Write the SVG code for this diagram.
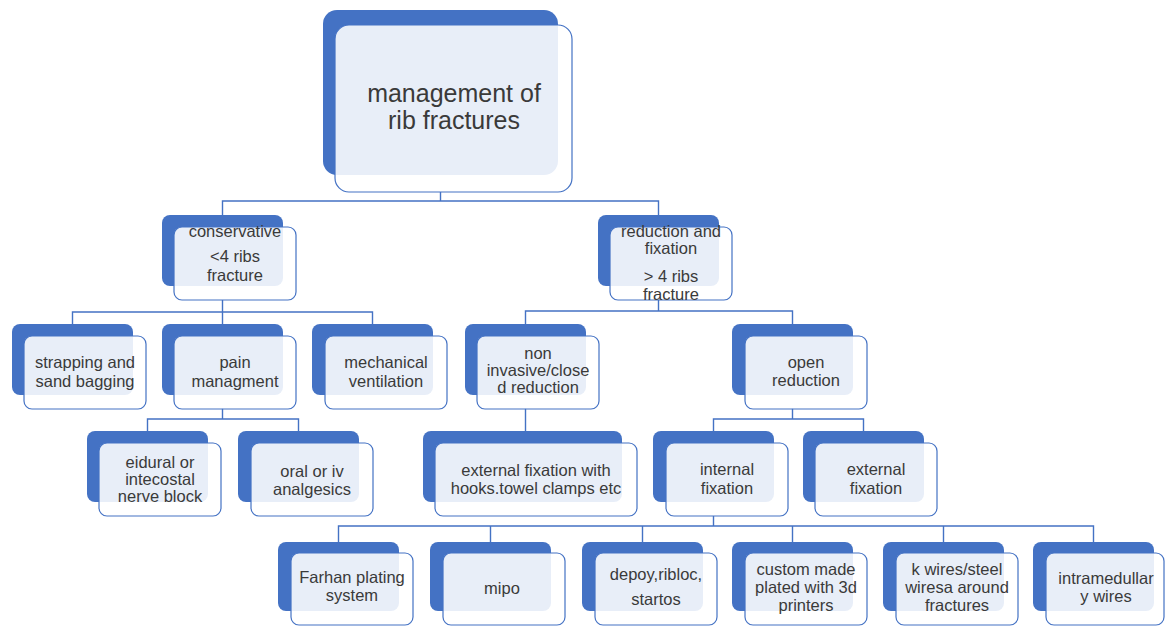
<svg xmlns="http://www.w3.org/2000/svg" width="1166" height="631" viewBox="0 0 1166 631">
<style>
.b{fill:#4472c4}
.f{fill:#ffffff;fill-opacity:0.88;stroke:#4472c4;stroke-width:1.2}
.t{font-family:"Liberation Sans",Arial,sans-serif;font-size:16.5px;fill:#3a3a3a;text-anchor:middle}
.r{font-size:25px}
.c{fill:none;stroke:#4472c4;stroke-width:1.4}
</style>
<rect width="1166" height="631" fill="#ffffff"/>
<g id="connectors" class="c">
<path d="M440.5,192 V201 M222.5,215 V201 H658.5 V215"/>
<path d="M222.5,300 V312 M72.5,324 V312 H372.5 V324 M222.5,312 V324"/>
<path d="M222.5,408 V419 M147.5,431 V419 H298.5 V431"/>
<path d="M658.5,300 V311 M525.5,324 V311 H792.5 V324"/>
<path d="M525.5,408 V431"/>
<path d="M792.5,408 V419 M713.5,431 V419 H863.5 V431"/>
<path d="M713.5,516 V526 M338.5,542 V526 H1093.5 V542 M490.5,526 V542 M642.5,526 V542 M792.5,526 V542 M943.5,526 V542"/>
</g>
<g id="root">
<rect class="b" x="323" y="10" width="235" height="165" rx="14"/>
<rect class="f" x="335" y="25" width="237" height="167" rx="14"/>
<text class="t r" x="454" y="102">management of</text>
<text class="t r" x="454" y="129">rib fractures</text>
</g>
<g id="conservative">
<rect class="b" x="162" y="215" width="121" height="71" rx="8"/>
<rect class="f" x="174" y="227" width="122" height="73" rx="8"/>
<text class="t" x="235" y="237">conservative</text>
<text class="t" x="235" y="262">&lt;4 ribs</text>
<text class="t" x="235" y="281">fracture</text>
</g>
<g id="reduction">
<rect class="b" x="598" y="215" width="121" height="71" rx="8"/>
<rect class="f" x="610" y="227" width="122" height="73" rx="8"/>
<text class="t" x="671" y="237">reduction and</text>
<text class="t" x="671" y="254">fixation</text>
<text class="t" x="671" y="282">&gt; 4 ribs</text>
<text class="t" x="671" y="300">fracture</text>
</g>
<g id="strapping">
<rect class="b" x="12" y="324" width="121" height="71" rx="8"/>
<rect class="f" x="24" y="336" width="122" height="73" rx="8"/>
<text class="t" x="85" y="368">strapping and</text>
<text class="t" x="85" y="387">sand bagging</text>
</g>
<g id="pain">
<rect class="b" x="162" y="324" width="121" height="71" rx="8"/>
<rect class="f" x="174" y="336" width="122" height="73" rx="8"/>
<text class="t" x="235" y="368">pain</text>
<text class="t" x="235" y="387">managment</text>
</g>
<g id="mechanical">
<rect class="b" x="312" y="324" width="121" height="71" rx="8"/>
<rect class="f" x="325" y="336" width="122" height="73" rx="8"/>
<text class="t" x="386" y="368">mechanical</text>
<text class="t" x="386" y="387">ventilation</text>
</g>
<g id="noninvasive">
<rect class="b" x="465" y="324" width="121" height="71" rx="8"/>
<rect class="f" x="477" y="336" width="122" height="73" rx="8"/>
<text class="t" x="538" y="359">non</text>
<text class="t" x="538" y="376">invasive/close</text>
<text class="t" x="538" y="393">d reduction</text>
</g>
<g id="open">
<rect class="b" x="732" y="324" width="121" height="71" rx="8"/>
<rect class="f" x="745" y="336" width="122" height="73" rx="8"/>
<text class="t" x="806" y="368">open</text>
<text class="t" x="806" y="386">reduction</text>
</g>
<g id="eidural">
<rect class="b" x="87" y="431" width="121" height="71" rx="8"/>
<rect class="f" x="99" y="443" width="122" height="73" rx="8"/>
<text class="t" x="160" y="468">eidural or</text>
<text class="t" x="160" y="485">intecostal</text>
<text class="t" x="160" y="502">nerve block</text>
</g>
<g id="oral">
<rect class="b" x="238" y="431" width="121" height="71" rx="8"/>
<rect class="f" x="251" y="443" width="122" height="73" rx="8"/>
<text class="t" x="312" y="477">oral or iv</text>
<text class="t" x="312" y="495">analgesics</text>
</g>
<g id="hooks">
<rect class="b" x="423" y="431" width="199" height="71" rx="8"/>
<rect class="f" x="435" y="443" width="202" height="73" rx="8"/>
<text class="t" x="536" y="476">external fixation with</text>
<text class="t" x="536" y="494">hooks.towel clamps etc</text>
</g>
<g id="internal">
<rect class="b" x="653" y="431" width="121" height="71" rx="8"/>
<rect class="f" x="666" y="443" width="122" height="73" rx="8"/>
<text class="t" x="727" y="475">internal</text>
<text class="t" x="727" y="494">fixation</text>
</g>
<g id="external">
<rect class="b" x="803" y="431" width="121" height="71" rx="8"/>
<rect class="f" x="815" y="443" width="122" height="73" rx="8"/>
<text class="t" x="876" y="475">external</text>
<text class="t" x="876" y="494">fixation</text>
</g>
<g id="farhan">
<rect class="b" x="278" y="542" width="121" height="69" rx="8"/>
<rect class="f" x="291" y="553" width="122" height="72" rx="8"/>
<text class="t" x="352" y="583">Farhan plating</text>
<text class="t" x="352" y="601">system</text>
</g>
<g id="mipo">
<rect class="b" x="430" y="542" width="121" height="69" rx="8"/>
<rect class="f" x="443" y="553" width="122" height="72" rx="8"/>
<text class="t" x="502" y="594">mipo</text>
</g>
<g id="depoy">
<rect class="b" x="582" y="542" width="121" height="69" rx="8"/>
<rect class="f" x="595" y="553" width="122" height="72" rx="8"/>
<text class="t" x="656" y="580">depoy,ribloc,</text>
<text class="t" x="656" y="605">startos</text>
</g>
<g id="custom">
<rect class="b" x="732" y="542" width="121" height="69" rx="8"/>
<rect class="f" x="745" y="553" width="122" height="72" rx="8"/>
<text class="t" x="806" y="575">custom made</text>
<text class="t" x="806" y="593">plated with 3d</text>
<text class="t" x="806" y="611">printers</text>
</g>
<g id="kwires">
<rect class="b" x="883" y="542" width="121" height="69" rx="8"/>
<rect class="f" x="896" y="553" width="122" height="72" rx="8"/>
<text class="t" x="957" y="575">k wires/steel</text>
<text class="t" x="957" y="593">wiresa around</text>
<text class="t" x="957" y="611">fractures</text>
</g>
<g id="intramedullar">
<rect class="b" x="1033" y="542" width="121" height="69" rx="8"/>
<rect class="f" x="1046" y="553" width="118" height="72" rx="8"/>
<text class="t" x="1106" y="584">intramedullar</text>
<text class="t" x="1106" y="602">y wires</text>
</g>
</svg>
